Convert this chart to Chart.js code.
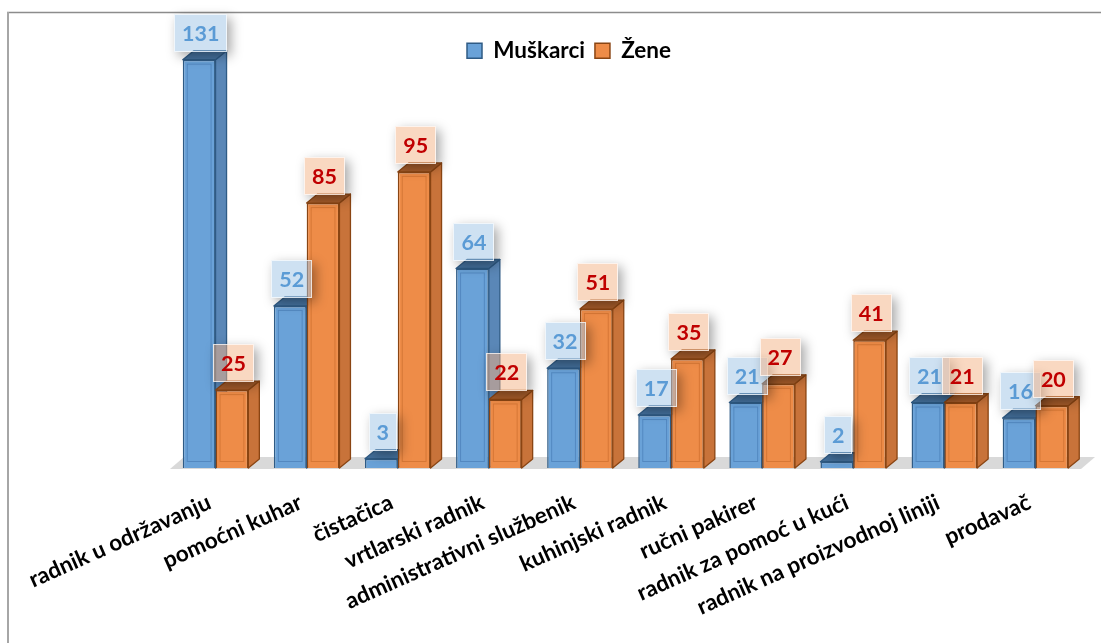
<!DOCTYPE html>
<html><head><meta charset="utf-8">
<script src="https://cdn.jsdelivr.net/npm/chart.js@4.4.0/dist/chart.umd.min.js"></script>
<style>html,body{margin:0;padding:0;background:#fff;}canvas{display:block}</style>
</head><body>
<canvas id="c" width="1101" height="643"></canvas>
<script>
const categories = ['radnik u održavanju','pomoćni kuhar','čistačica','vrtlarski radnik','administrativni službenik','kuhinjski radnik','ručni pakirer','radnik za pomoć u kući','radnik na proizvodnoj liniji','prodavač'];
const muskarci = [131,52,3,64,32,17,21,2,21,16];
const zene = [25,85,95,22,51,35,27,41,21,20];
const seriesNames = ['Muškarci','Žene'];

const DX = 11, DY = 9;
const FONT = 'Lato';
const styles = [
  {front:'#6AA2D8', side:'#5A87B7', top:'#44709C', edge:'#2F5B85', bevel:'rgba(40,90,150,0.35)', boxFill:'rgba(157,195,230,0.5)', text:'#5B9BD5'},
  {front:'#EE8C48', side:'#C8733A', top:'#A65C2A', edge:'#8A4513', bevel:'rgba(170,80,20,0.35)', boxFill:'rgba(244,177,131,0.5)', text:'#C00000'}
];

const framePlugin = {
  id:'frame',
  beforeDraw(chart){
    const ctx = chart.ctx;
    ctx.save();
    ctx.fillStyle = '#fff';
    ctx.fillRect(0,0,chart.width,chart.height);
    ctx.strokeStyle = '#8C8C8C'; ctx.lineWidth = 1.5;
    ctx.beginPath(); ctx.moveTo(7,12.5); ctx.lineTo(chart.width,12.5); ctx.stroke();
    ctx.strokeStyle = '#A6A6A6'; ctx.lineWidth = 2;
    ctx.beginPath(); ctx.moveTo(8,12); ctx.lineTo(8,chart.height); ctx.stroke();
    ctx.restore();
  },
  afterLayout(chart){
    const lg = chart.legend;
    if (lg) {
      const h = lg.height;
      lg.left = 457; lg.right = 1000;
      lg.top = 29.5; lg.bottom = lg.top + h;
    }
  }
};

const bars3d = {
  id:'bars3d',
  beforeDatasetsDraw(chart){
    const ctx = chart.ctx, a = chart.chartArea;
    const yb = chart.scales.y.getPixelForValue(0);
    ctx.save();
    ctx.fillStyle = '#D9D9D9';
    ctx.beginPath();
    ctx.moveTo(a.left, yb+1); ctx.lineTo(a.left+14, yb-11);
    ctx.lineTo(a.right+14, yb-11); ctx.lineTo(a.right, yb+1);
    ctx.closePath(); ctx.fill();
    chart.data.datasets.forEach((ds, di) => {
      const st = styles[di];
      chart.getDatasetMeta(di).data.forEach(bar => {
        const p = bar.getProps(['x','y','base','width'], true);
        const x0 = p.x - p.width/2, x1 = p.x + p.width/2, yt = p.y, b = p.base;
        ctx.lineWidth = 1.3; ctx.strokeStyle = st.edge; ctx.lineJoin = 'round';
        ctx.fillStyle = st.side;
        ctx.beginPath();
        ctx.moveTo(x1, yt); ctx.lineTo(x1+DX, yt-DY); ctx.lineTo(x1+DX, b-DY); ctx.lineTo(x1, b);
        ctx.closePath(); ctx.fill(); ctx.stroke();
        ctx.fillStyle = st.top;
        ctx.beginPath();
        ctx.moveTo(x0, yt); ctx.lineTo(x0+DX, yt-DY); ctx.lineTo(x1+DX, yt-DY); ctx.lineTo(x1, yt);
        ctx.closePath(); ctx.fill(); ctx.stroke();
      });
    });
    ctx.restore();
  },
  afterDatasetsDraw(chart){
    const ctx = chart.ctx;
    ctx.save();
    chart.data.datasets.forEach((ds, di) => {
      const st = styles[di];
      chart.getDatasetMeta(di).data.forEach(bar => {
        const p = bar.getProps(['x','y','base','width'], true);
        const h = p.base - p.y;
        if (h > 14) {
          ctx.strokeStyle = st.bevel; ctx.lineWidth = 1;
          ctx.strokeRect(p.x - p.width/2 + 4.5, p.y + 4.5, p.width - 9, h - 11);
        }
      });
    });
    ctx.font = 'bold 21.5px ' + FONT;
    ctx.textAlign = 'center'; ctx.textBaseline = 'middle';
    chart.data.datasets.forEach((ds, di) => {
      const st = styles[di];
      chart.getDatasetMeta(di).data.forEach((bar, i) => {
        const t = String(ds.data[i]);
        const tw = ctx.measureText(t).width;
        const bw = Math.round(tw + 16), bh = 38;
        const cx = bar.x + 1.5;
        const bx = Math.round(cx - bw/2), by = Math.round(bar.y - DY + 1 - bh);
        ctx.save();
        ctx.beginPath();
        ctx.rect(0,0,chart.width,chart.height);
        ctx.rect(bx, by, bw, bh);
        ctx.clip('evenodd');
        ctx.shadowColor = 'rgba(0,0,0,0.35)';
        ctx.shadowBlur = 12; ctx.shadowOffsetX = 10000 + 4; ctx.shadowOffsetY = 4;
        ctx.fillStyle = '#000';
        ctx.fillRect(bx - 10000, by, bw, bh);
        ctx.restore();
        ctx.fillStyle = st.boxFill;
        ctx.fillRect(bx, by, bw, bh);
        ctx.strokeStyle = 'rgba(255,255,255,0.7)'; ctx.lineWidth = 1;
        ctx.strokeRect(bx+0.5, by+0.5, bw-1, bh-1);
        ctx.fillStyle = st.text;
        ctx.fillText(t, cx, by + bh/2 + 1);
      });
    });
    ctx.restore();
  }
};

new Chart(document.getElementById('c'), {
  type:'bar',
  data:{
    labels: categories,
    datasets:[
      {label: seriesNames[0], data: muskarci, backgroundColor: styles[0].front, borderColor: styles[0].edge, borderWidth: 1.5},
      {label: seriesNames[1], data: zene, backgroundColor: styles[1].front, borderColor: styles[1].edge, borderWidth: 1.5}
    ]
  },
  options:{
    responsive:false, devicePixelRatio:1, animation:false,
    layout:{padding:{top:-14, left:170, right:20, bottom:0}},
    datasets:{bar:{categoryPercentage:0.72, barPercentage:1}},
    scales:{
      y:{display:false, min:0, max:141},
      x:{
        grid:{display:false, drawTicks:false}, border:{display:false},
        ticks:{autoSkip:false, minRotation:24, maxRotation:24, padding:21, labelOffset:-6, color:'#000', font:{family:FONT, weight:'bold', size:22.5}},
        afterFit(s){ s.height = 175; }
      }
    },
    plugins:{
      legend:{position:'top', align:'start', fullSize:true,
        labels:{color:'#000', boxWidth:15, boxHeight:15, padding:10, font:{family:FONT, weight:'bold', size:22.5}}},
      tooltip:{enabled:false}
    }
  },
  plugins:[framePlugin, bars3d]
});
</script>
</body></html>
